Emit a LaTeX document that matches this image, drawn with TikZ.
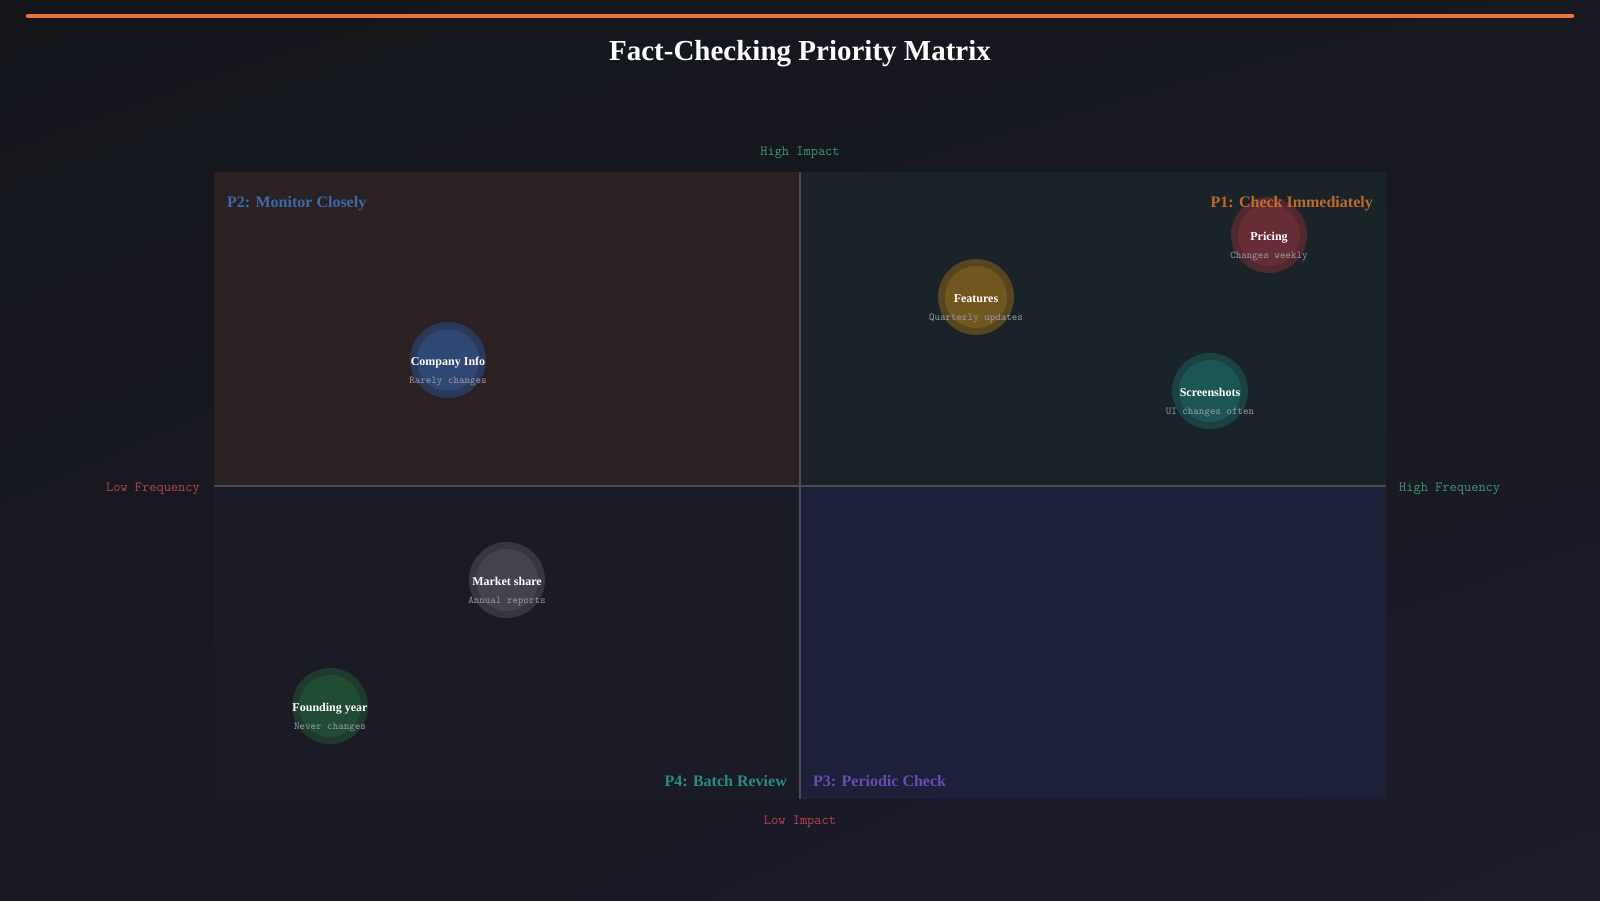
\documentclass[tikz,border=0pt]{standalone}
\usepackage{fontspec}
\setmainfont{Liberation Serif}
\usepackage{tikz}
\usetikzlibrary{positioning, shadings}

\definecolor{bgtl}{HTML}{14161C}
\definecolor{bgbr}{HTML}{1D1C2A}
\definecolor{barorange}{HTML}{E8772E}
\definecolor{qpmonitor}{HTML}{2A2222}
\definecolor{qpcheck}{HTML}{1A2328}
\definecolor{qpbatch}{HTML}{1A1B25}
\definecolor{qpperiodic}{HTML}{1C2038}
\definecolor{axisgrey}{HTML}{464C5A}
\definecolor{hiwgreen}{HTML}{3A9A6C}
\definecolor{lowred}{HTML}{B8424E}
\definecolor{monblue}{HTML}{4070B8}
\definecolor{chkorange}{HTML}{D0722C}
\definecolor{batteal}{HTML}{2A9A8C}
\definecolor{perpurple}{HTML}{7052C0}
\definecolor{subgrey}{HTML}{9A9AA8}
\definecolor{priceout}{HTML}{5E2A32}
\definecolor{pricein}{HTML}{6C2E35}
\definecolor{featout}{HTML}{664E20}
\definecolor{featin}{HTML}{785A20}
\definecolor{shotout}{HTML}{1A4A4A}
\definecolor{shotin}{HTML}{1D5A57}
\definecolor{compout}{HTML}{2A3F66}
\definecolor{compin}{HTML}{2F4A7A}
\definecolor{mktout}{HTML}{3C3D47}
\definecolor{mktin}{HTML}{454650}
\definecolor{foundout}{HTML}{1E4230}
\definecolor{foundin}{HTML}{205034}

\begin{document}
\begin{tikzpicture}[x=1pt, y=-1pt,
    bubble/.style={circle, minimum size=76pt, inner sep=0pt, fill opacity=0.8},
    core/.style={circle, minimum size=62pt, inner sep=0pt, fill opacity=0.85},
    tag/.style={text=white, anchor=base, inner sep=0pt, font=\bfseries\fontsize{12}{14}\selectfont},
    note/.style={text=subgrey, anchor=base, inner sep=0pt, font=\ttfamily\fontsize{10.5}{12}\selectfont},
    axislabel/.style={inner sep=0pt, font=\ttfamily\fontsize{14}{16}\selectfont},
    quadlabel/.style={inner sep=0pt, text opacity=0.9, font=\bfseries\fontsize{16}{19}\selectfont}]
    \useasboundingbox (0,0) rectangle (1600,900);
    % background
    \shade[upper left=bgtl, upper right=bgtl!70!bgbr, lower left=bgtl!50!bgbr, lower right=bgbr] (0,0) rectangle (1600,900);
    \draw[barorange, line width=4.5pt, line cap=round] (28,16) -- (1572,16);

    \node[text=white, font=\bfseries\fontsize{29}{34}\selectfont] (title) at (800,54) {Fact-Checking Priority Matrix};

    % quadrants
    \fill[qpmonitor] (214,172) rectangle (800,486);
    \fill[qpcheck] (800,172) rectangle (1386,486);
    \fill[qpbatch] (214,486) rectangle (800,799);
    \fill[qpperiodic] (800,486) rectangle (1386,799);
    \coordinate (top) at (800,172);
    \coordinate (bottom) at (800,799);
    \coordinate (left) at (214,486);
    \coordinate (right) at (1386,486);
    \draw[axisgrey, line width=2pt] (top) -- (bottom);
    \draw[axisgrey, line width=2pt] (left) -- (right);

    % axis labels
    \node[axislabel, text=hiwgreen] (highimpact) at (800,153) {High Impact};
    \node[axislabel, text=lowred] (lowimpact) at (800,822) {Low Impact};
    \node[axislabel, text=lowred, anchor=east] (lowfreq) at (200,489) {Low Frequency};
    \node[axislabel, text=hiwgreen, anchor=west] (highfreq) at (1399,489) {High Frequency};

    % bubbles
    \node[bubble, fill=priceout] (pricing) at (1269,235) {};
    \node[core, fill=pricein] at (pricing) {};
    \node[tag] (pricingname) at ([yshift=-5pt]pricing) {Pricing};
    \node[note] (pricingnote) at ([yshift=-18pt]pricingname.base) {Changes weekly};

    \node[bubble, fill=featout] (features) at (976,297) {};
    \node[core, fill=featin] at (features) {};
    \node[tag] (featuresname) at ([yshift=-5pt]features) {Features};
    \node[note] (featuresnote) at ([yshift=-18pt]featuresname.base) {Quarterly updates};

    \node[bubble, fill=shotout] (screens) at (1210,391) {};
    \node[core, fill=shotin] at (screens) {};
    \node[tag] (screensname) at ([yshift=-5pt]screens) {Screenshots};
    \node[note] (screensnote) at ([yshift=-18pt]screensname.base) {UI changes often};

    \node[bubble, fill=compout] (company) at (448,360) {};
    \node[core, fill=compin] at (company) {};
    \node[tag] (companyname) at ([yshift=-5pt]company) {Company Info};
    \node[note] (companynote) at ([yshift=-18pt]companyname.base) {Rarely changes};

    \node[bubble, fill=mktout] (market) at (507,580) {};
    \node[core, fill=mktin] at (market) {};
    \node[tag] (marketname) at ([yshift=-5pt]market) {Market share};
    \node[note] (marketnote) at ([yshift=-18pt]marketname.base) {Annual reports};

    \node[bubble, fill=foundout] (founding) at (330,706) {};
    \node[core, fill=foundin] at (founding) {};
    \node[tag] (foundingname) at ([yshift=-5pt]founding) {Founding year};
    \node[note] (foundingnote) at ([yshift=-18pt]foundingname.base) {Never changes};

    % quadrant titles
    \node[quadlabel, text=monblue, anchor=west] (p2) at (227,204) {P2: Monitor Closely};
    \node[quadlabel, text=chkorange, anchor=east] (p1) at (1373,204) {P1: Check Immediately};
    \node[quadlabel, text=batteal, anchor=east] (p4) at (787,781) {P4: Batch Review};
    \node[quadlabel, text=perpurple, anchor=west] (p3) at (813,781) {P3: Periodic Check};
\end{tikzpicture}
\end{document}
